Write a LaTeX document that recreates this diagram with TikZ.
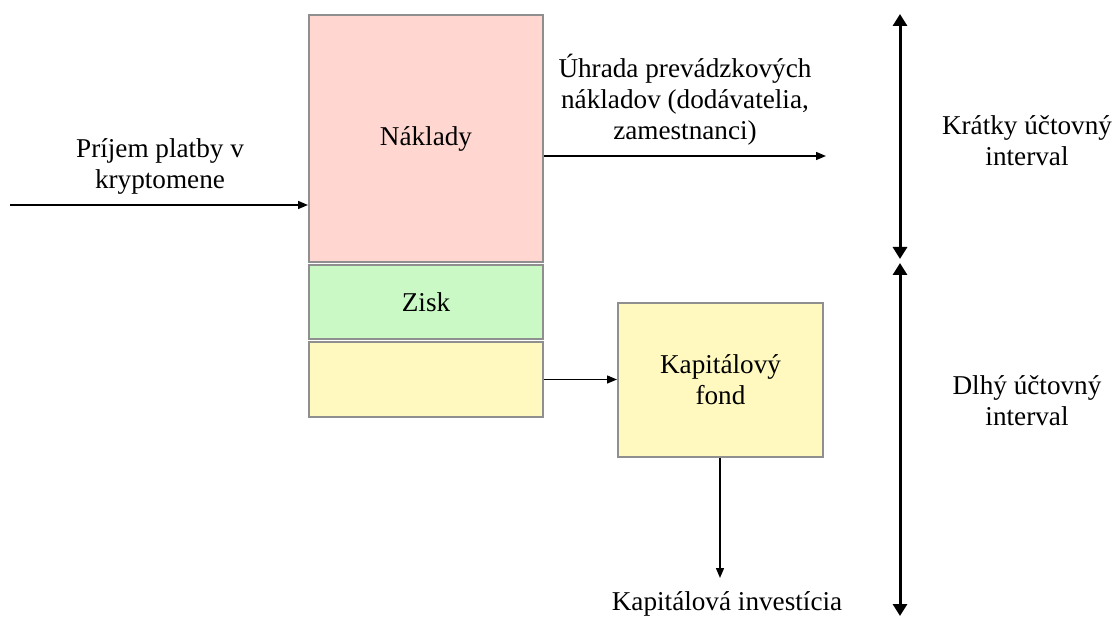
\documentclass[tikz,border=0pt]{standalone}
\usepackage{fontspec}
\setmainfont{Liberation Serif}
\usetikzlibrary{arrows.meta}

\definecolor{costred}{HTML}{FFD7D0}
\definecolor{profitgreen}{HTML}{CAF9C6}
\definecolor{fundyellow}{HTML}{FFF9BF}
\definecolor{boxgray}{HTML}{8F8F8F}

\begin{document}
\begin{tikzpicture}[x=0.5pt,y=-0.5pt,
    every node/.style={font=\fontsize{13.6}{15.5}\selectfont, align=center, inner sep=0pt},
    block/.style={draw=boxgray, line width=1pt},
    flow/.style={-{Triangle[length=5pt,width=4pt]}, line width=0.7pt},
    period/.style={{Triangle[length=6pt,width=7pt]}-{Triangle[length=6pt,width=7pt]}, line width=1.5pt}]
    \useasboundingbox (0,0) rectangle (1115,620);

    % Stacked blocks of the received payment
    \node[block, fill=costred, minimum width=117pt, minimum height=123.5pt] (naklady) at (426,138.5) {Náklady};
    \node[block, fill=profitgreen, minimum width=117pt, minimum height=37pt] (zisk) at (426,302) {Zisk};
    \node[block, fill=fundyellow, minimum width=117pt, minimum height=37.5pt] (rezerva) at (426,379.5) {};

    % Capital fund
    \node[block, fill=fundyellow, minimum width=102.5pt, minimum height=77pt] (fond) at (720.5,380) {Kapitálový\\fond};

    % Incoming payment
    \coordinate (zdroj) at (10,205);
    \node (prijem) at (160,166.5) {Príjem platby v\\kryptomene};
    \draw[flow] (zdroj) -- (naklady.west |- zdroj);

    % Paying the running costs
    \coordinate (uhradaend) at (826,156);
    \node (uhrada) at (685,100) {Úhrada prevádzkových\\nákladov (dodávatelia,\\zamestnanci)};
    \draw[flow] (naklady.east |- uhradaend) -- (uhradaend);

    % Profit goes to the fund and then to investment
    \draw[flow] (rezerva.east) -- (fond.west |- rezerva.east);
    \node (investicia) at (727,604) {Kapitálová investícia};
    \coordinate (investend) at (720,578);
    \draw[flow] (fond.south -| investend) -- (investend);

    % Accounting intervals
    \coordinate (horna) at (900,14);
    \coordinate (stredh) at (900,259);
    \coordinate (stredd) at (900,263);
    \coordinate (dolna) at (900,616);
    \draw[period] (horna) -- (stredh);
    \draw[period] (stredd) -- (dolna);
    \node (kratky) at (1027,141) {Krátky účtovný\\interval};
    \node (dlhy) at (1027,401) {Dlhý účtovný\\interval};
\end{tikzpicture}
\end{document}
